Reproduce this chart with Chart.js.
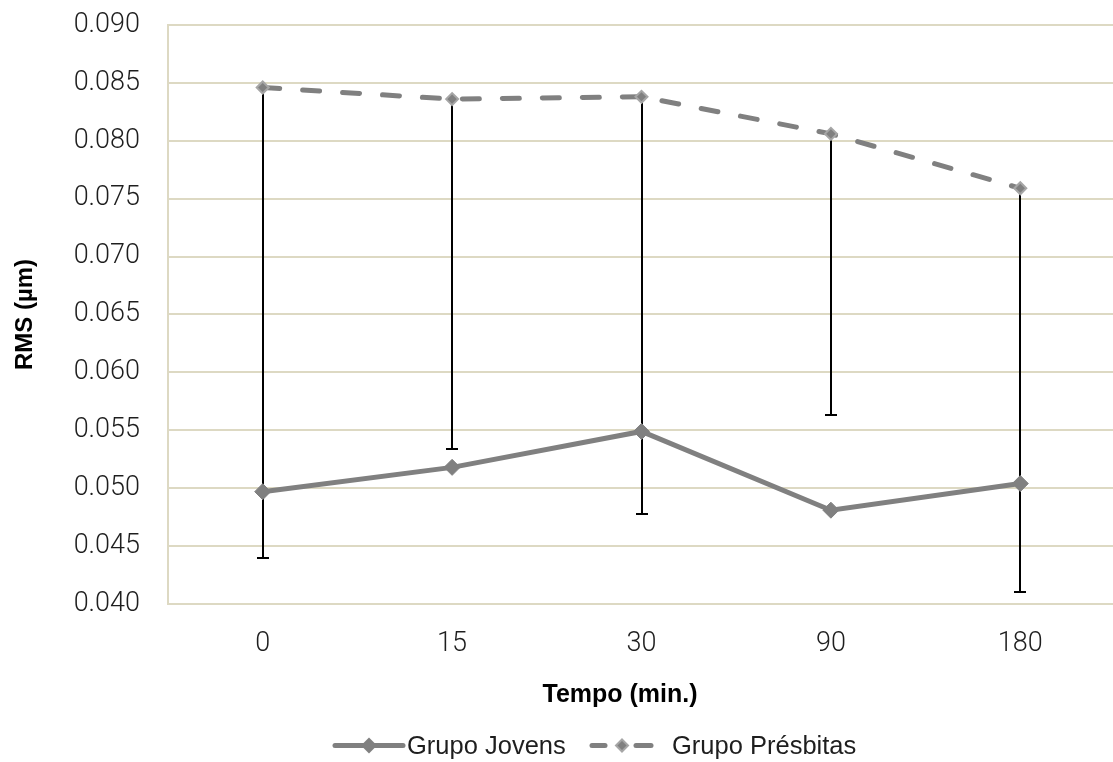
<!DOCTYPE html>
<html>
<head>
<meta charset="utf-8">
<script src="https://cdn.jsdelivr.net/npm/chart.js@4.4.1/dist/chart.umd.min.js"></script>
<style>
  html, body { margin: 0; padding: 0; background: #fff; overflow: hidden; }
  #wrap { width: 1113px; height: 762px; overflow: hidden; }
  canvas { display: block; }
</style>
</head>
<body>
<div id="wrap"><canvas id="c" width="1124" height="762"></canvas></div>
<script>
const categories = ['0', '15', '30', '90', '180'];
const jovens = [0.0497, 0.0518, 0.0549, 0.0481, 0.0504];
const presbitas = [0.0846, 0.0836, 0.0838, 0.0806, 0.0759];
const presbitasLow = [0.0440, 0.0534, 0.0478, 0.0563, 0.0410];
const yTicks = [0.040, 0.045, 0.050, 0.055, 0.060, 0.065, 0.070, 0.075, 0.080, 0.085, 0.090];
const seriesNames = ['Grupo Jovens', 'Grupo Présbitas'];
const xTitle = 'Tempo (min.)';
const yTitle = 'RMS (µm)';

const GRAY = '#808080';
const GRID = '#ddd9c3';
const TXT = '#1e1e1e';
const SANS = '"Liberation Sans", Arial, sans-serif';

function diamond(g, cx, cy, r, fill, stroke, lw) {
  g.beginPath();
  g.moveTo(cx, cy - r); g.lineTo(cx + r, cy); g.lineTo(cx, cy + r); g.lineTo(cx - r, cy);
  g.closePath();
  g.fillStyle = fill; g.fill();
  if (stroke) { g.strokeStyle = stroke; g.lineWidth = lw; g.stroke(); }
}

const errorBars = {
  id: 'errorBars',
  beforeDatasetsDraw(chart) {
    const ctx = chart.ctx;
    const xs = chart.scales.x, ys = chart.scales.y;
    ctx.save();
    ctx.strokeStyle = '#000';
    ctx.lineWidth = 2;
    presbitas.forEach((v, i) => {
      const x = Math.round(xs.getPixelForValue(i));
      const y1 = ys.getPixelForValue(v);
      const y2 = Math.round(ys.getPixelForValue(presbitasLow[i]));
      ctx.beginPath(); ctx.moveTo(x, y1); ctx.lineTo(x, y2); ctx.stroke();
      ctx.beginPath(); ctx.moveTo(x - 6, y2); ctx.lineTo(x + 6, y2); ctx.stroke();
    });
    ctx.restore();
  }
};

// x-axis title and legend, drawn as canvas text below the plot
const bottomTexts = {
  id: 'bottomTexts',
  afterDraw(chart) {
    const ctx = chart.ctx;
    ctx.save();
    ctx.fillStyle = '#000';
    ctx.font = 'bold 25px ' + SANS;
    ctx.textAlign = 'center';
    ctx.textBaseline = 'alphabetic';
    ctx.fillText(xTitle, 620, 702);

    const ly = 745.5;
    ctx.lineCap = 'round';
    ctx.strokeStyle = GRAY;
    ctx.lineWidth = 5;
    ctx.beginPath(); ctx.moveTo(335, ly); ctx.lineTo(403, ly); ctx.stroke();
    diamond(ctx, 369, ly, 8, GRAY);
    ctx.strokeStyle = GRAY; ctx.lineWidth = 5;
    ctx.beginPath(); ctx.moveTo(592, ly); ctx.lineTo(605, ly); ctx.stroke();
    ctx.beginPath(); ctx.moveTo(636, ly); ctx.lineTo(651, ly); ctx.stroke();
    diamond(ctx, 622, ly, 6, GRAY, '#a6a6a6', 2);

    ctx.fillStyle = TXT;
    ctx.font = '25.5px ' + SANS;
    ctx.textAlign = 'left';
    ctx.fillText(seriesNames[0], 407, 754);
    ctx.fillText(seriesNames[1], 672, 754);
    ctx.restore();
  }
};

new Chart(document.getElementById('c'), {
  type: 'line',
  data: {
    labels: categories,
    datasets: [
      {
        label: seriesNames[0],
        data: jovens,
        borderColor: GRAY,
        backgroundColor: GRAY,
        borderWidth: 5,
        pointStyle: 'rectRot',
        pointRadius: 8,
        pointBackgroundColor: GRAY,
        pointBorderColor: GRAY,
        pointBorderWidth: 1,
        tension: 0
      },
      {
        label: seriesNames[1],
        data: presbitas,
        borderColor: GRAY,
        backgroundColor: GRAY,
        borderWidth: 5,
        borderDash: [17, 23],
        borderCapStyle: 'round',
        pointStyle: 'rectRot',
        pointRadius: 6,
        pointBackgroundColor: GRAY,
        pointBorderColor: '#a6a6a6',
        pointBorderWidth: 2,
        tension: 0
      }
    ]
  },
  options: {
    responsive: false,
    animation: false,
    events: [],
    layout: { padding: { top: 25, left: 0, right: 0, bottom: 0 } },
    plugins: {
      tooltip: { enabled: false },
      legend: { display: false }
    },
    scales: {
      x: {
        offset: true,
        afterFit(scale) { scale.height = 158; },
        grid: { display: false, drawTicks: false },
        border: { display: true, color: GRID, width: 2 },
        ticks: {
          color: TXT,
          padding: 24,
          font: { family: 'Roboto, "Liberation Sans", sans-serif', size: 27, weight: '300' }
        }
      },
      y: {
        min: 0.04,
        max: 0.09,
        afterBuildTicks(scale) { scale.ticks = yTicks.map(v => ({ value: v })); },
        afterFit(scale) { scale.width = 168; },
        grid: { color: GRID, lineWidth: 2, drawTicks: true, tickLength: 22, tickColor: 'rgba(0,0,0,0)' },
        border: { display: true, color: GRID, width: 2 },
        ticks: {
          color: TXT,
          padding: 6,
          font: { family: 'Roboto, "Liberation Sans", sans-serif', size: 27, weight: '300' },
          callback: (v) => Number(v).toFixed(3)
        },
        title: {
          display: true,
          text: yTitle,
          color: '#000',
          padding: { top: 11, bottom: 0 },
          font: { family: SANS, size: 24, weight: 'bold' }
        }
      }
    }
  },
  plugins: [errorBars, bottomTexts]
});
</script>
</body>
</html>
